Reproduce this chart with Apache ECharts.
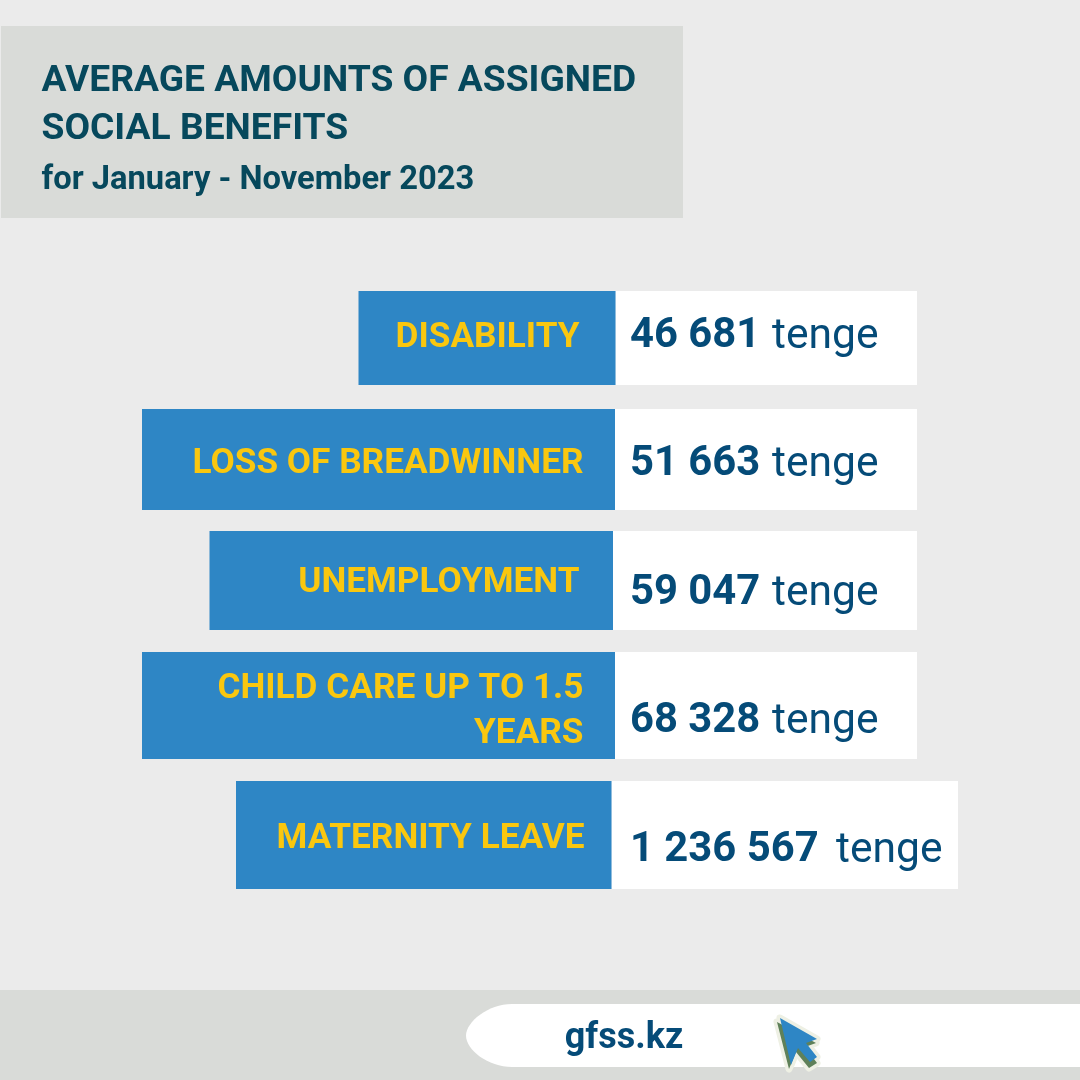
<!DOCTYPE html>
<html>
<head>
<meta charset="utf-8">
<style>html,body{margin:0;padding:0;background:#ebebeb}#c{width:1080px;height:1080px}</style>
<script src="https://cdn.jsdelivr.net/npm/echarts@6/dist/echarts.min.js"></script>
</head>
<body>
<div id="c"></div>
<script>
// Data
const titleLines = ['AVERAGE AMOUNTS OF ASSIGNED', 'SOCIAL BENEFITS'];
const subtitle = 'for January - November 2023';
const categories = [['DISABILITY'], ['LOSS OF BREADWINNER'], ['UNEMPLOYMENT'], ['CHILD CARE UP TO 1.5', 'YEARS'], ['MATERNITY LEAVE']];
const values = [46681, 51663, 59047, 68328, 1236567];
const unit = 'tenge';
const site = 'gfss.kz';

// Layout of the rows, in the page's own units (the bars are not scaled to the values in the original)
const barLeft = [358.5, 142, 209.5, 142, 236];
const barSplit = [615.5, 615, 613, 615, 611.5];
const cardRight = [917, 917, 917, 917, 958];
const rowTop = [291, 409, 531, 652, 781];
const rowBottom = [385, 510, 630, 759, 889];
const labelRight = [579.5, 583.5, 579.5, 583.5, 584.5];
const labelY = [[338], [464], [583], [689, 734], [839]];
const valueX = [630, 630, 630, 630, 630];
const valueY = [337, 465, 594, 722, 851];
const unitX = [772, 772, 772, 772, 836];

const fmt = v => String(v).replace(/\B(?=(\d{3})+$)/g, ' ');
const FONT = 'Roboto';

const rows = categories.map((c, i) => [i, values[i]]);

const option = {
  backgroundColor: '#ebebeb',
  animation: false,
  grid: { left: 0, right: 0, top: 0, bottom: 0 },
  xAxis: { type: 'value', min: 0, max: 1080, show: false },
  yAxis: { type: 'value', min: 0, max: 1080, inverse: true, show: false },
  tooltip: { show: false },
  graphic: { elements: [
    { type: 'rect', z: 0, shape: { x: 1, y: 26, width: 682, height: 192 }, style: { fill: '#d9dbd8' } },
    { type: 'text', z: 2, style: { x: 41.5, y: 82, text: titleLines[0], font: '700 37.2px ' + FONT, fill: '#06485c', textVerticalAlign: 'middle' } },
    { type: 'text', z: 2, style: { x: 41.5, y: 130, text: titleLines[1], font: '700 37.2px ' + FONT, fill: '#06485c', textVerticalAlign: 'middle' } },
    { type: 'text', z: 2, style: { x: 41.5, y: 181, text: subtitle, font: '700 32.7px ' + FONT, fill: '#06485c', textVerticalAlign: 'middle' } },
    { type: 'rect', z: 0, shape: { x: 0, y: 990, width: 1080, height: 90 }, style: { fill: '#d9dbd8' } },
    { type: 'text', z: 20, style: { x: 624, y: 1039, text: site, font: '700 36px ' + FONT, fill: '#054b78', textAlign: 'center', textVerticalAlign: 'middle' } },
    { type: 'polygon', z: 20, shape: { points: [[777,1022],[816,1043],[805,1047],[817,1063],[809,1068],[796,1052],[789,1069]] }, style: { fill: '#eef0e4', stroke: '#eef0e4', lineWidth: 7, lineJoin: 'round' } },
    { type: 'polygon', z: 21, shape: { points: [[780,1018],[817,1039],[806,1043],[817,1057],[810,1062],[798,1048],[791,1065]] }, style: { fill: '#eef0e4', stroke: '#eef0e4', lineWidth: 7, lineJoin: 'round' } },
    { type: 'polygon', z: 22, shape: { points: [[777,1022],[816,1043],[805,1047],[817,1063],[809,1068],[796,1052],[789,1069]] }, style: { fill: '#5f8159' } },
    { type: 'polygon', z: 23, shape: { points: [[780,1018],[817,1039],[806,1043],[817,1057],[810,1062],[798,1048],[791,1065]] }, style: { fill: '#2e86c5' } }
  ] },
  series: [{
    type: 'custom',
    coordinateSystem: 'cartesian2d',
    clip: false,
    silent: true,
    z: 1,
    data: [[0]],
    renderItem(params, api) {
      const [x, y] = api.coord([466, 1004]);
      const [xe, ye] = api.coord([1080, 1067]);
      return { type: 'path', shape: { pathData: 'M614 0 L46 0 C22 0 0 18 0 31.5 C0 46 22 63 46 63 L614 63 Z', x, y, width: xe - x, height: ye - y, layout: 'cover' }, style: { fill: '#ffffff' } };
    }
  }, {
    type: 'custom',
    coordinateSystem: 'cartesian2d',
    clip: false,
    silent: true,
    z: 2,
    encode: { x: 1, y: 0 },
    data: rows,
    renderItem(params, api) {
      const i = api.value(0);
      const [x0, y0] = api.coord([barLeft[i], rowTop[i]]);
      const [xs, y1] = api.coord([barSplit[i], rowBottom[i]]);
      const [xr] = api.coord([cardRight[i], 0]);
      const children = [
        { type: 'rect', shape: { x: xs, y: y0, width: xr - xs, height: y1 - y0 }, style: { fill: '#ffffff' } },
        { type: 'rect', shape: { x: x0, y: y0, width: xs - x0, height: y1 - y0 }, style: { fill: '#2e86c5' } }
      ];
      categories[i].forEach((line, k) => {
        const [lx, ly] = api.coord([labelRight[i], labelY[i][k]]);
        children.push({ type: 'text', style: { x: lx, y: ly, text: line, font: '700 35.2px ' + FONT, fill: '#fac70f', textAlign: 'right', textVerticalAlign: 'middle' } });
      });
      const [vx, vy] = api.coord([valueX[i], valueY[i]]);
      children.push({ type: 'text', style: { x: vx, y: vy, text: fmt(api.value(1)), font: '700 41.8px ' + FONT, fill: '#054b78', textVerticalAlign: 'middle' } });
      const [ux] = api.coord([unitX[i], 0]);
      children.push({ type: 'text', style: { x: ux, y: vy, text: unit, font: '400 42.6px ' + FONT, fill: '#054b78', textVerticalAlign: 'middle' } });
      return { type: 'group', children };
    }
  }]
};
const chart = echarts.init(document.getElementById('c'), null, { renderer: 'canvas', width: 1080, height: 1080 });
chart.setOption(option);
</script>
</body>
</html>
